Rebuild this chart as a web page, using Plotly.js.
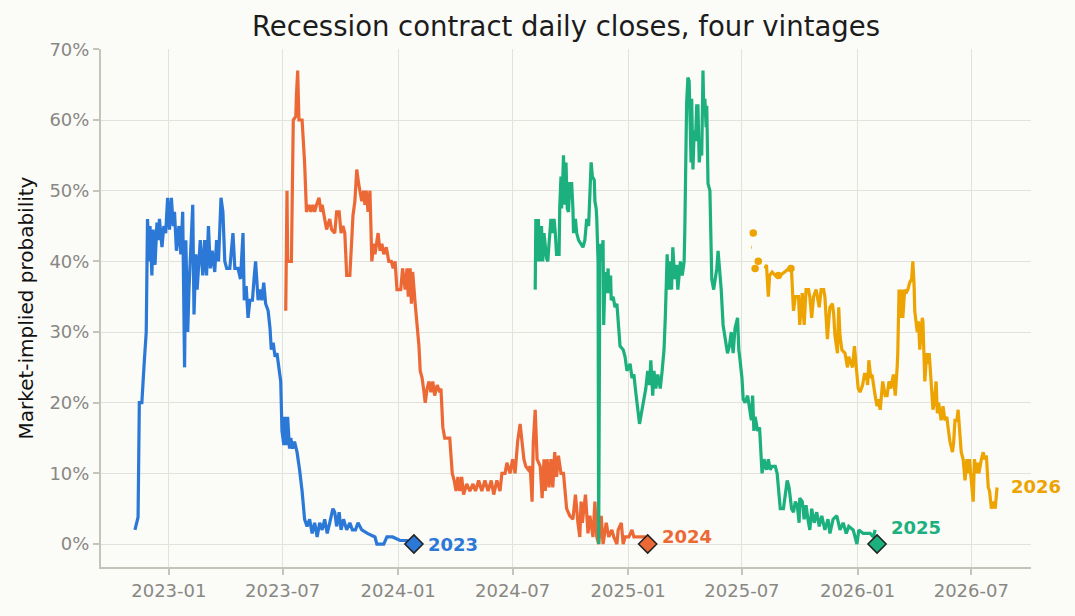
<!DOCTYPE html>
<html>
<head>
<meta charset="utf-8">
<script src="https://cdn.plot.ly/plotly-3.0.1.min.js"></script>
<style>
  html, body { margin: 0; padding: 0; background: #fbfbf8; }
  #chart { width: 1075px; height: 616px; }
</style>
</head>
<body>
<div id="chart"></div>
<script>
// daily closes, percent
const dates2023 = ['2022-11-08','2022-11-11','2022-11-13','2022-11-15','2022-11-19','2022-11-23','2022-11-26','2022-11-28',
  '2022-12-01','2022-12-02','2022-12-05','2022-12-07','2022-12-10','2022-12-13','2022-12-15','2022-12-17','2022-12-21','2022-12-24','2022-12-27','2022-12-30',
  '2023-01-02','2023-01-05','2023-01-08','2023-01-10','2023-01-13','2023-01-17','2023-01-20','2023-01-23','2023-01-26','2023-01-28','2023-01-31',
  '2023-02-02','2023-02-05','2023-02-08','2023-02-10','2023-02-13','2023-02-15','2023-02-18','2023-02-20','2023-02-24','2023-02-27',
  '2023-03-02','2023-03-05','2023-03-08','2023-03-11','2023-03-15','2023-03-18','2023-03-21','2023-03-25','2023-03-28','2023-03-31',
  '2023-04-03','2023-04-08','2023-04-13','2023-04-16','2023-04-21','2023-04-25','2023-04-29',
  '2023-05-01','2023-05-04','2023-05-07','2023-05-10','2023-05-14','2023-05-17','2023-05-19','2023-05-23','2023-05-26','2023-05-29',
  '2023-06-01','2023-06-04','2023-06-08','2023-06-11','2023-06-13','2023-06-16','2023-06-19','2023-06-22','2023-06-25','2023-06-28','2023-06-30',
  '2023-07-03','2023-07-04','2023-07-07','2023-07-09','2023-07-12','2023-07-14','2023-07-17','2023-07-20','2023-07-24','2023-07-28',
  '2023-08-01','2023-08-05','2023-08-09','2023-08-13','2023-08-17','2023-08-21','2023-08-25','2023-08-29',
  '2023-09-02','2023-09-06','2023-09-10','2023-09-14','2023-09-19','2023-09-22','2023-09-25','2023-09-29',
  '2023-10-02','2023-10-06','2023-10-11','2023-10-16','2023-10-20','2023-10-25','2023-10-29',
  '2023-11-04','2023-11-13','2023-11-25','2023-11-28','2023-12-09','2023-12-14','2023-12-23','2024-01-04','2024-01-15','2024-01-24'];
const values2023 = [2, 3.1, 3.8, 20, 20, 26, 30, 46,
  40, 45, 38, 44.5, 39.5, 45.5, 43, 46, 42, 45, 44, 49,
  44.5, 49, 45, 47, 41.5, 45, 41, 47, 25, 43, 30,
  36, 43, 48, 32.5, 41, 36, 40, 43, 38, 43,
  38, 45, 39, 41.5, 38.5, 43, 40, 49, 47, 40,
  39, 39, 44, 39, 39, 37.5, 44,
  34.5, 36.5, 32, 34.5, 34.5, 38, 40, 34.5, 36, 34.5,
  37, 34, 33, 30.5, 27.5, 28.5, 26.5, 27, 25, 23, 16,
  14, 18, 14, 18, 13.5, 15, 13.5, 14.5, 13, 10.5,
  7.5, 3.5, 2.5, 3.5, 1.5, 3, 1, 3,
  2, 3.5, 1.5, 3, 5, 4.5, 2.5, 4.5,
  2, 3.5, 2, 3, 2, 2, 3,
  2, 1.5, 1, 0, 0, 1, 1, 0.5, 0.5, 0.2];

const dates2024 = ['2023-07-06','2023-07-08','2023-07-09','2023-07-15','2023-07-18','2023-07-22','2023-07-23','2023-07-25','2023-07-27',
  '2023-08-01','2023-08-05','2023-08-07','2023-08-08','2023-08-12','2023-08-15','2023-08-18','2023-08-21','2023-08-24','2023-08-28','2023-08-31',
  '2023-09-02','2023-09-05','2023-09-09','2023-09-14','2023-09-17','2023-09-22','2023-09-25','2023-09-29',
  '2023-10-02','2023-10-05','2023-10-08','2023-10-11','2023-10-16','2023-10-19','2023-10-21','2023-10-24','2023-10-27','2023-10-30',
  '2023-11-01','2023-11-04','2023-11-07','2023-11-09','2023-11-11','2023-11-14','2023-11-17','2023-11-20','2023-11-23','2023-11-25','2023-11-30',
  '2023-12-03','2023-12-06','2023-12-09','2023-12-13','2023-12-17','2023-12-21','2023-12-24','2023-12-27','2023-12-30',
  '2024-01-05','2024-01-08','2024-01-12','2024-01-15','2024-01-17','2024-01-20','2024-01-22','2024-01-24','2024-01-28','2024-01-31',
  '2024-02-03','2024-02-05','2024-02-08','2024-02-11','2024-02-13','2024-02-16','2024-02-19','2024-02-22','2024-02-25','2024-02-28',
  '2024-03-03','2024-03-07','2024-03-09','2024-03-12','2024-03-15','2024-03-23','2024-03-27','2024-03-30',
  '2024-04-02','2024-04-05','2024-04-08','2024-04-11','2024-04-14','2024-04-19','2024-04-24','2024-04-29',
  '2024-05-03','2024-05-08','2024-05-13','2024-05-18','2024-05-23','2024-05-28',
  '2024-06-01','2024-06-06','2024-06-11','2024-06-14','2024-06-19','2024-06-22','2024-06-27',
  '2024-07-01','2024-07-05','2024-07-09','2024-07-13','2024-07-16','2024-07-19','2024-07-22','2024-07-26','2024-07-29',
  '2024-08-01','2024-08-03','2024-08-06','2024-08-09','2024-08-14','2024-08-17','2024-08-20','2024-08-22','2024-08-25','2024-08-28','2024-08-31',
  '2024-09-03','2024-09-06','2024-09-09','2024-09-12','2024-09-16','2024-09-20','2024-09-25','2024-09-30',
  '2024-10-05','2024-10-09','2024-10-13','2024-10-16','2024-10-18','2024-10-20','2024-10-25','2024-10-29',
  '2024-11-01','2024-11-06','2024-11-09','2024-11-12','2024-11-15','2024-11-19','2024-11-22','2024-11-27',
  '2024-12-01','2024-12-06','2024-12-09','2024-12-14','2024-12-16','2024-12-21','2024-12-24','2024-12-27',
  '2025-01-02','2025-01-07','2025-01-10','2025-01-29'];
const values2024 = [33, 50, 40, 40, 60, 60.5, 63.5, 67, 60,
  60, 54, 50, 47, 48, 47, 48, 47, 48, 49, 47,
  48, 46.5, 44.5, 46, 44.5, 44, 47, 47,
  44, 45, 44, 38, 38, 43, 46.5, 48.5, 53, 51,
  50, 48.5, 50, 48, 50, 47, 50, 40, 42.5, 41, 44,
  41.5, 42.5, 41, 42, 40, 40, 39, 40, 36,
  36, 39, 36, 39, 35, 39, 34, 38.5, 34, 31.5,
  28, 24.5, 23.5, 21.5, 20, 22, 23, 21.5, 23, 21,
  22.5, 21.5, 22, 16.5, 15, 15, 10, 9,
  7.5, 9.5, 7.5, 9.5, 7, 8.5, 7.5, 8.5,
  7.5, 9, 7.5, 9, 7.5, 9,
  7, 9, 7.5, 10, 10, 11.5, 10,
  12, 10, 14.5, 17, 14.5, 12, 11, 10.5, 11,
  6, 14.5, 19, 12, 11, 6.5, 12, 7.5, 12, 8, 12,
  8, 13, 9.5, 12.5, 10, 10, 5, 4,
  3.5, 7, 3, 1, 6, 3, 7, 1.5,
  4, 1, 6, 1, 0, 4, 0, 3,
  1, 2, 1, 0, 2, 3, 0, 1,
  1, 2, 1, 1];

const dates2025 = ['2024-08-06','2024-08-07','2024-08-09','2024-08-11','2024-08-13','2024-08-16','2024-08-18','2024-08-20','2024-08-24','2024-08-26','2024-08-28','2024-08-31',
  '2024-09-02','2024-09-05','2024-09-07','2024-09-09','2024-09-13','2024-09-14','2024-09-16','2024-09-17','2024-09-19','2024-09-20','2024-09-22','2024-09-24','2024-09-26','2024-09-28','2024-09-30',
  '2024-10-03','2024-10-05','2024-10-06','2024-10-09','2024-10-11','2024-10-14','2024-10-17','2024-10-21','2024-10-24','2024-10-27','2024-10-30',
  '2024-11-01','2024-11-03','2024-11-05','2024-11-08','2024-11-09','2024-11-11','2024-11-12','2024-11-14','2024-11-15','2024-11-17','2024-11-19','2024-11-22','2024-11-23','2024-11-25','2024-11-27','2024-11-28','2024-11-30',
  '2024-12-01','2024-12-04','2024-12-05','2024-12-08','2024-12-11','2024-12-14','2024-12-16','2024-12-19','2024-12-24','2024-12-27','2024-12-30',
  '2025-01-04','2025-01-07','2025-01-10','2025-01-13','2025-01-16','2025-01-19','2025-01-23','2025-01-26','2025-01-29',
  '2025-02-01','2025-02-04','2025-02-06','2025-02-09','2025-02-11','2025-02-14','2025-02-17','2025-02-21','2025-02-24','2025-02-27',
  '2025-03-01','2025-03-04','2025-03-06','2025-03-09','2025-03-11','2025-03-13','2025-03-16','2025-03-19','2025-03-21','2025-03-25','2025-03-28','2025-03-31',
  '2025-04-01','2025-04-03','2025-04-04','2025-04-06','2025-04-08','2025-04-11','2025-04-12','2025-04-14','2025-04-16','2025-04-18','2025-04-20','2025-04-22','2025-04-24','2025-04-26','2025-04-28','2025-04-30',
  '2025-05-01','2025-05-03','2025-05-05','2025-05-06','2025-05-08','2025-05-11','2025-05-14','2025-05-17','2025-05-19','2025-05-22','2025-05-24','2025-05-27','2025-05-29',
  '2025-06-01','2025-06-04','2025-06-08','2025-06-11','2025-06-14','2025-06-17','2025-06-20','2025-06-24','2025-06-26','2025-06-28',
  '2025-07-01','2025-07-03','2025-07-06','2025-07-10','2025-07-13','2025-07-16','2025-07-18','2025-07-20','2025-07-22','2025-07-26','2025-07-29',
  '2025-08-02','2025-08-05','2025-08-09','2025-08-12','2025-08-15','2025-08-18','2025-08-23','2025-08-26','2025-08-31',
  '2025-09-05','2025-09-08','2025-09-11','2025-09-14','2025-09-18','2025-09-21','2025-09-24','2025-09-27','2025-09-30',
  '2025-10-01','2025-10-05','2025-10-08','2025-10-11','2025-10-14','2025-10-17','2025-10-20','2025-10-24','2025-10-28',
  '2025-11-01','2025-11-05','2025-11-10','2025-11-15','2025-11-18','2025-11-23','2025-11-29',
  '2025-12-04','2025-12-09','2025-12-14','2025-12-18','2025-12-25','2025-12-31',
  '2026-01-03','2026-01-10','2026-01-21','2026-01-26','2026-01-29'];
const values2025 = [36, 46, 40, 46, 40, 45, 40, 44, 40.5, 40, 42.5, 46,
  44, 46, 44, 41, 41, 47.5, 52, 47.5, 52, 55, 48, 54, 47.5, 47, 51,
  51, 47.5, 44, 46, 44, 43, 42.5, 42, 43, 46, 45,
  51.5, 54, 52, 51.5, 48.5, 47.5, 46, 40, 0, 42.5, 40, 43, 31, 37.5, 38.5, 35.5, 39,
  35.5, 38, 34.5, 35, 33.5, 34, 31.5, 28, 27.5, 26.5, 24.5,
  25.5, 23.5, 24, 21.5, 19.5, 17, 19, 20.5, 22,
  24.5, 22.5, 26, 21, 24.5, 22, 24, 22, 24.5, 27.5,
  32, 41, 36, 40, 36, 42, 37.5, 39.5, 36, 40, 38, 40,
  44, 59, 62.5, 66, 65.5, 54, 63, 53, 58.5, 57, 62, 62, 54, 56, 55, 67,
  62.5, 63, 59, 62, 51, 50, 37.5, 36, 37.5, 39, 41.5, 38.5, 36,
  31, 29.5, 27, 28, 30, 27, 30.5, 32, 27.5, 26,
  23.5, 20.5, 20, 21, 19, 17.5, 21, 16, 18, 16, 16.5,
  10, 12, 10.5, 12, 10.5, 11, 11, 10, 5,
  5, 7, 9, 8, 5, 4.5, 6, 5.5, 3,
  6.5, 6, 3.5, 5.5, 3.5, 2, 5, 3, 4.5,
  2.5, 4, 2, 3.5, 1.5, 3.5, 4,
  2, 3, 1.5, 2.5, 2, 0,
  2, 1.5, 1.5, 1, 2];

// 2026 has gaps early on: null breaks the line
const dates2026 = ['2025-07-16','2025-07-17','2025-07-18',
  '2025-08-07','2025-08-09','2025-08-12','2025-08-14','2025-08-18','2025-08-23','2025-08-31',
  '2025-09-08','2025-09-14','2025-09-18','2025-09-21','2025-09-24','2025-09-29',
  '2025-10-01','2025-10-05','2025-10-08','2025-10-11','2025-10-15','2025-10-17','2025-10-20','2025-10-23','2025-10-27','2025-10-29',
  '2025-11-01','2025-11-04','2025-11-08','2025-11-10','2025-11-14','2025-11-16','2025-11-18','2025-11-22','2025-11-24','2025-11-26','2025-11-30',
  '2025-12-02','2025-12-04','2025-12-07','2025-12-12','2025-12-16','2025-12-18','2025-12-20','2025-12-24','2025-12-27','2025-12-30',
  '2026-01-02','2026-01-05','2026-01-09','2026-01-12','2026-01-15','2026-01-17','2026-01-19','2026-01-22','2026-01-24','2026-01-29',
  '2026-02-01','2026-02-03','2026-02-06','2026-02-08','2026-02-10','2026-02-14','2026-02-17','2026-02-20','2026-02-23','2026-02-27',
  '2026-03-02','2026-03-05','2026-03-06','2026-03-08','2026-03-10','2026-03-12','2026-03-14','2026-03-17','2026-03-19','2026-03-22','2026-03-25','2026-03-28','2026-03-30',
  '2026-04-01','2026-04-02','2026-04-06','2026-04-08','2026-04-10','2026-04-14','2026-04-15','2026-04-17','2026-04-18','2026-04-21','2026-04-23','2026-04-25','2026-04-28',
  '2026-05-01','2026-05-03','2026-05-06','2026-05-08','2026-05-10','2026-05-14','2026-05-17','2026-05-20','2026-05-23','2026-05-25','2026-05-28',
  '2026-06-01','2026-06-03','2026-06-05','2026-06-08','2026-06-10','2026-06-13','2026-06-15','2026-06-18','2026-06-21','2026-06-24','2026-06-26','2026-06-28',
  '2026-07-01','2026-07-04','2026-07-06','2026-07-09','2026-07-11','2026-07-13','2026-07-17','2026-07-20','2026-07-22','2026-07-25','2026-07-28','2026-07-30',
  '2026-08-02','2026-08-05','2026-08-08','2026-08-11'];
const values2026 = [42, 42, null,
  39, 39.5, 35, 38, 38.5, 38, 38,
  38.5, 39, 38.5, 33, 35, 35,
  31, 35.5, 31, 36, 36, 35, 32, 35, 36, 35,
  33.5, 36, 36, 35, 29, 31.5, 33.5, 34, 32.5, 29.5, 27,
  33.5, 29.5, 27.5, 27, 25, 26.5, 26, 25, 28, 25,
  22, 21.5, 22.5, 24, 24, 22.5, 26, 23.5, 24, 21,
  19.5, 20.5, 19, 21, 23, 21, 21, 23, 22, 24,
  21, 25, 27, 36, 32, 36, 32, 36, 35.5, 36, 37, 37.5, 40,
  36.5, 33, 30, 31.5, 27.5, 32, 31.5, 27, 23, 27, 25.5, 27, 23,
  19, 20, 23, 18.5, 20, 17.5, 19.5, 17.5, 18, 16.5, 14.5,
  13, 14.5, 17.5, 17.5, 19, 16, 13, 12, 9, 12, 10, 12,
  9, 6, 12, 10, 11.5, 10, 12, 13, 12, 12.5, 8, 7.5,
  5, 6, 5, 8];
// single closes with no neighbouring day
const dotDates2026 = ['2025-07-19', '2025-07-22', '2025-07-27', '2025-08-28', '2025-09-17'];
const dotValues2026 = [44, 39, 40, 38, 39];

const vintages = ['2023', '2024', '2025', '2026'];
const settleDates = ['2024-01-26', '2025-02-01', '2026-02-01'];
const settleValues = [0, 0, 0];
const labelValues = [0, 1.1, 2.3, 8.2];

const colors = ['#2b78d7', '#ec6935', '#1bb07e', '#eda300'];
const seriesDates = [dates2023, dates2024, dates2025, dates2026];
const seriesValues = [values2023, values2024, values2025, values2026];

const chartElement = document.getElementById('chart');

const traces = seriesDates.map((d, i) => ({
    x: d,
    y: seriesValues[i],
    name: vintages[i],
    type: 'scatter',
    mode: 'lines',
    connectgaps: false,
    line: { color: colors[i], width: 3.2 },
    hoverinfo: 'x+y+name'
}));

traces.push({
    x: dotDates2026,
    y: dotValues2026,
    type: 'scatter',
    mode: 'markers',
    marker: { color: colors[3], size: 7.5 },
    hoverinfo: 'x+y',
    showlegend: false
});

traces.push({
    x: settleDates,
    y: settleValues,
    type: 'scatter',
    mode: 'markers',
    marker: {
        symbol: 'diamond',
        size: 14,
        color: colors.slice(0, 3),
        line: { color: '#222222', width: 1.5 }
    },
    hoverinfo: 'x+y',
    showlegend: false
});

// end labels sit at the settlement date (or last close for the open contract)
const labelDates = [settleDates[0], settleDates[1], settleDates[2], dates2026[dates2026.length - 1]];
const annotations = vintages.map((v, i) => ({
    x: labelDates[i],
    y: labelValues[i],
    xref: 'x',
    yref: 'y',
    text: '<b>' + v + '</b>',
    showarrow: false,
    xanchor: 'left',
    yanchor: 'middle',
    xshift: 12,
    font: { family: 'DejaVu Sans', size: 18, color: colors[i] }
}));

const layout = {
    width: 1075,
    height: 616,
    paper_bgcolor: '#fbfbf8',
    plot_bgcolor: '#fbfbf8',
    font: { family: 'DejaVu Sans', color: '#888883' },
    title: {
        text: 'Recession contract daily closes, four vintages',
        font: { family: 'DejaVu Sans', size: 27.5, color: '#1c1c1c' },
        x: 0.5,
        xref: 'paper',
        xanchor: 'center',
        y: 0.957,
        yref: 'container',
        yanchor: 'middle'
    },
    xaxis: {
        type: 'date',
        range: ['2022-09-15', '2026-10-04'],
        tick0: '2023-01-01',
        dtick: 'M6',
        tickformat: '%Y-%m',
        ticks: 'outside',
        ticklen: 6,
        tickwidth: 2,
        tickcolor: '#c4c4ba',
        tickfont: { size: 18, color: '#888883' },
        showgrid: true,
        gridcolor: '#e2e2dc',
        gridwidth: 1.3,
        showline: true,
        linecolor: '#c4c4ba',
        linewidth: 2,
        zeroline: false
    },
    yaxis: {
        range: [-3.25, 70.05],
        dtick: 10,
        tick0: 0,
        ticksuffix: '%',
        ticks: 'outside',
        ticklen: 6,
        tickwidth: 2,
        tickcolor: '#c4c4ba',
        tickfont: { size: 18, color: '#888883' },
        showgrid: true,
        gridcolor: '#e2e2dc',
        gridwidth: 1.3,
        showline: true,
        linecolor: '#c4c4ba',
        linewidth: 2,
        zeroline: false,
        title: {
            text: 'Market-implied probability',
            font: { family: 'DejaVu Sans', size: 20, color: '#111111' },
            standoff: 10
        }
    },
    margin: { l: 101, r: 44, t: 49, b: 49, pad: 0 },
    showlegend: false,
    annotations: annotations
};

Plotly.newPlot(chartElement, traces, layout, { displayModeBar: false, responsive: false });
</script>
</body>
</html>
